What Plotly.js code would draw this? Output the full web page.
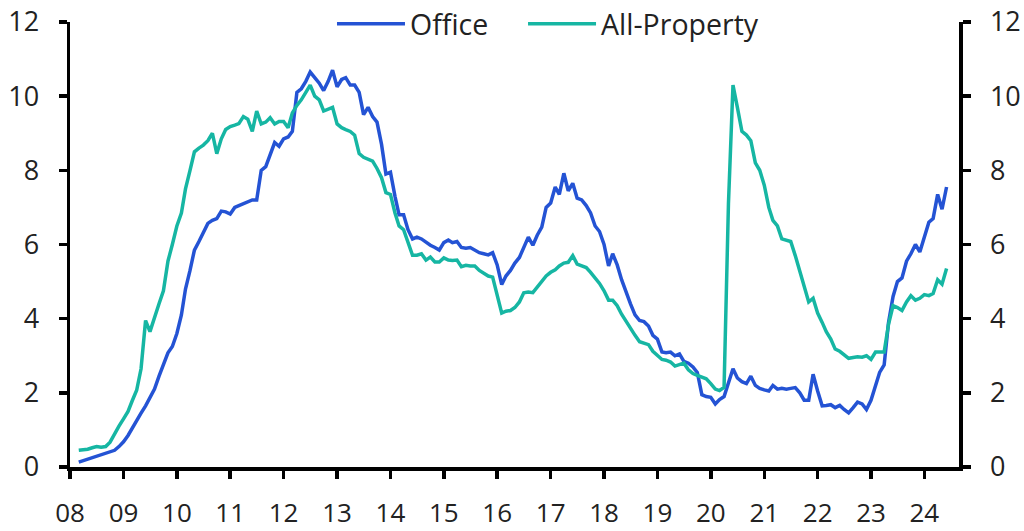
<!DOCTYPE html>
<html>
<head>
<meta charset="utf-8">
<script src="https://cdn.plot.ly/plotly-3.0.1.min.js"></script>
<style>
  html, body { margin:0; padding:0; background:#fff; }
  #chart { width:1024px; height:531px; }
</style>
</head>
<body>
<div id="chart"></div>
<script>
// Monthly series, first observation March 2008, last June 2024
const startYear = 2008;
const startMonth = 3;

const seriesNames = ["Office", "All-Property"];

const office = [
  0.13,0.17,0.2,0.24,0.3,0.33,0.36,0.4,0.45,0.55,
  0.68,0.85,1.05,1.26,1.45,1.65,1.85,2.1,2.45,2.75,3.08,3.25,
  3.6,4.1,4.8,5.3,5.85,6.08,6.35,6.57,6.65,6.7,6.9,6.88,
  6.82,7.0,7.05,7.1,7.15,7.2,7.2,8.0,8.1,8.4,8.75,8.65,
  8.85,8.9,9.05,10.1,10.2,10.4,10.65,10.5,10.35,10.15,10.4,10.7,
  10.25,10.45,10.5,10.3,10.3,10.1,9.5,9.7,9.45,9.3,8.7,7.9,
  7.95,7.3,6.8,6.8,6.4,6.15,6.2,6.15,6.05,5.98,5.92,5.85,
  6.05,6.12,6.05,6.08,5.92,5.9,5.92,5.85,5.78,5.75,5.72,5.78,
  5.45,4.92,5.15,5.3,5.5,5.65,5.9,6.2,5.98,6.25,6.47,7.0,
  7.12,7.55,7.35,7.92,7.45,7.65,7.25,7.2,7.05,6.85,6.5,6.35,
  6.0,5.42,5.75,5.45,5.05,4.7,4.4,4.1,3.95,3.92,3.8,3.55,
  3.45,3.1,3.08,3.1,3.0,3.05,2.85,2.8,2.7,2.55,1.95,1.9,
  1.88,1.7,1.82,1.9,2.3,2.65,2.4,2.3,2.25,2.45,2.2,2.12,
  2.08,2.05,2.2,2.1,2.12,2.1,2.12,2.14,2.0,1.8,1.8,2.5,
  2.05,1.65,1.66,1.68,1.6,1.66,1.55,1.46,1.6,1.75,1.7,1.55,
  1.8,2.2,2.55,2.75,3.9,4.6,5.0,5.1,5.55,5.75,6.0,5.8,
  6.2,6.6,6.7,7.35,6.95,7.55
];

const allProperty = [
  0.45,0.46,0.48,0.52,0.55,0.53,0.55,0.67,0.9,1.1,
  1.3,1.5,1.78,2.07,2.65,3.95,3.65,4.05,4.4,4.75,5.55,6.0,
  6.5,6.85,7.5,8.0,8.5,8.6,8.68,8.8,9.0,8.45,8.85,9.1,
  9.18,9.22,9.26,9.45,9.38,9.05,9.6,9.25,9.3,9.42,9.25,9.32,
  9.32,9.15,9.55,9.75,9.9,10.1,10.3,10.0,9.9,9.6,9.65,9.7,
  9.25,9.15,9.1,9.05,8.95,8.45,8.35,8.3,8.25,8.05,7.8,7.4,
  7.35,6.85,6.5,6.4,6.05,5.71,5.71,5.75,5.58,5.66,5.53,5.53,
  5.64,5.58,5.57,5.58,5.4,5.44,5.42,5.42,5.3,5.22,5.15,5.12,
  4.6,4.15,4.2,4.22,4.3,4.45,4.7,4.72,4.7,4.85,5.0,5.15,
  5.25,5.32,5.42,5.5,5.52,5.7,5.47,5.43,5.38,5.25,5.1,4.95,
  4.75,4.5,4.5,4.35,4.12,3.92,3.75,3.55,3.38,3.33,3.3,3.12,
  3.0,2.9,2.88,2.83,2.72,2.75,2.8,2.62,2.52,2.47,2.43,2.38,
  2.25,2.1,2.06,2.15,7.1,10.3,9.7,9.05,8.95,8.8,8.2,8.0,
  7.6,7.0,6.65,6.5,6.15,6.12,6.08,5.7,5.3,4.9,4.45,4.55,
  4.15,3.9,3.65,3.45,3.18,3.12,3.02,2.93,2.95,2.97,2.96,3.0,
  2.9,3.1,3.1,3.1,3.85,4.35,4.3,4.22,4.45,4.62,4.5,4.55,
  4.65,4.62,4.68,5.05,4.93,5.35
];

const yTickVals = [0, 2, 4, 6, 8, 10, 12];

// month dates (category positions on a date axis)
const dates = [];
for (let i = 0; i < office.length; i++) {
  const m = startMonth - 1 + i;
  const y = startYear + Math.floor(m / 12);
  const mm = (m % 12) + 1;
  dates.push(y + "-" + String(mm).padStart(2, "0") + "-01");
}

const FONT = "'Open Sans', 'Noto Sans', sans-serif";
const TXT = "#222222";

const traces = [
  { x: dates, y: office, name: seriesNames[0], type: "scatter", mode: "lines",
    line: { color: "#2453d4", width: 3.5 }, yaxis: "y", legend: "legend" },
  { x: dates, y: allProperty, name: seriesNames[1], type: "scatter", mode: "lines",
    line: { color: "#16b6a3", width: 3.5 }, yaxis: "y2", legend: "legend2" }
];

const yAxisCommon = {
  range: [0, 12], tickvals: yTickVals, showline: true, linecolor: "#000", linewidth: 3.5,
  ticks: "outside", ticklen: 8, tickwidth: 3.5, tickcolor: "#000",
  showgrid: false, zeroline: false, fixedrange: true,
  tickfont: { family: FONT, size: 27, color: TXT }, ticklabelstandoff: 14
};

const legendCommon = {
  orientation: "h", xanchor: "left", y: 0.995, yanchor: "middle",
  bgcolor: "rgba(0,0,0,0)", font: { family: FONT, size: 28.5, color: TXT },
  itemwidth: 68
};

const layout = {
  width: 1024, height: 531,
  margin: { l: 70, r: 65, t: 22, b: 64, pad: 0, autoexpand: false },
  paper_bgcolor: "#ffffff", plot_bgcolor: "#ffffff",
  font: { family: FONT, size: 27, color: TXT },
  showlegend: true,
  legend: Object.assign({}, legendCommon, { x: 0.2947 }),
  legend2: Object.assign({}, legendCommon, { x: 0.5096 }),
  xaxis: {
    type: "date", range: ["2008-01-01", "2024-08-25"],
    tick0: "2008-01-01", dtick: "M12", tickformat: "%y",
    showline: true, linecolor: "#000", linewidth: 3.5,
    ticks: "outside", ticklen: 8, tickwidth: 3.5, tickcolor: "#000",
    showgrid: false, zeroline: false, fixedrange: true,
    tickfont: { family: FONT, size: 26, color: TXT }, ticklabelstandoff: 12
  },
  yaxis: Object.assign({}, yAxisCommon, { side: "left" }),
  yaxis2: Object.assign({}, yAxisCommon, { side: "right", overlaying: "y" })
};

Plotly.newPlot("chart", traces, layout, { displayModeBar: false, staticPlot: true });
</script>
</body>
</html>
